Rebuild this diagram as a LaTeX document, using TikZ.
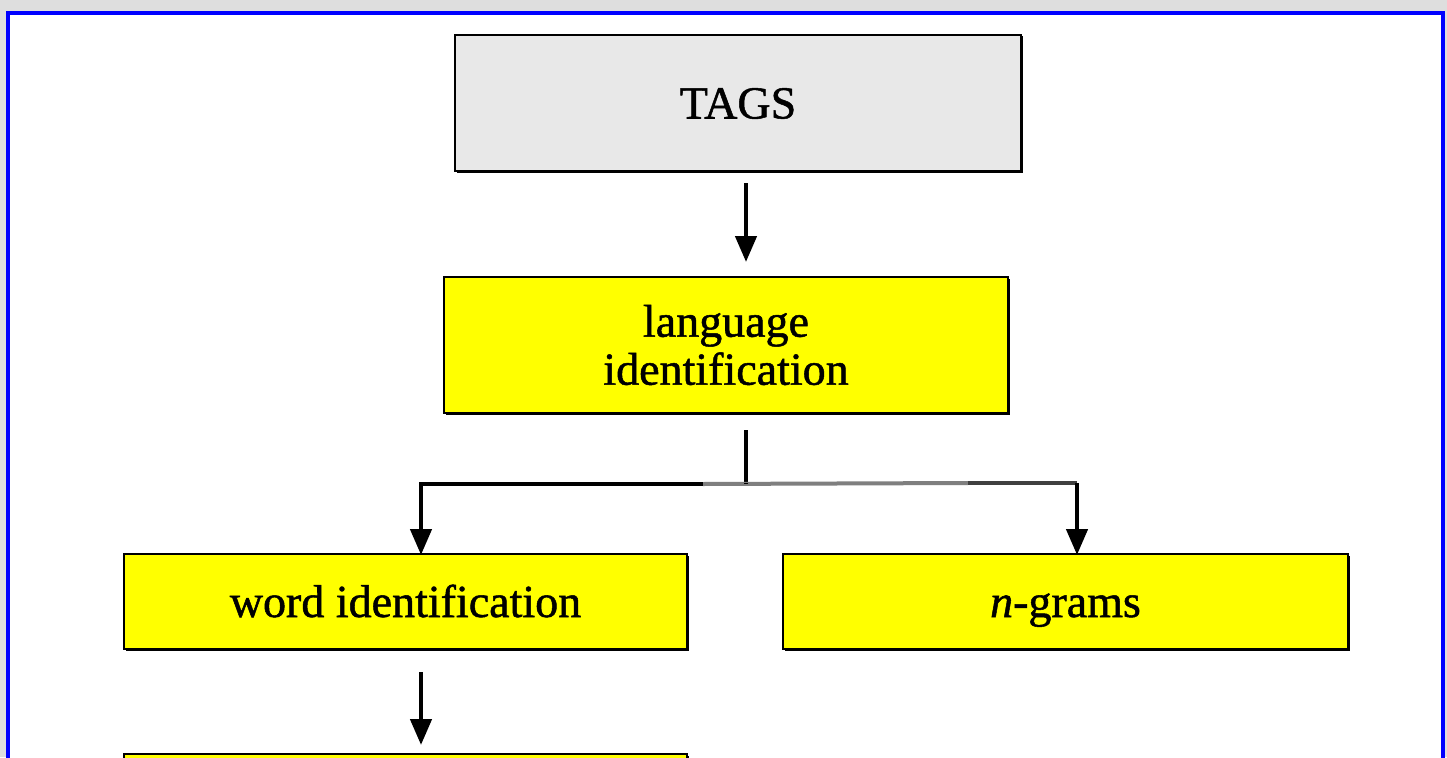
\documentclass[tikz,border=0pt]{standalone}
\usepackage{fontspec}
\setmainfont{Liberation Serif}
\newfontfamily\boxfont{Liberation Serif}[FakeBold=1.1]
\usetikzlibrary{arrows.meta,shadows}
\definecolor{pagegray}{HTML}{DEDEDE}
\definecolor{frameblue}{HTML}{0000FF}
\definecolor{boxgray}{HTML}{E8E8E8}
\definecolor{boxyellow}{HTML}{FFFF00}
\definecolor{midgray}{HTML}{7F7F7F}
\definecolor{darkline}{HTML}{404040}
% fixed height and depth so single-line labels share one baseline
\newcommand\boxstrut{\rule[-11pt]{0pt}{53pt}}
\tikzset{
  stagebox/.style={draw=black, line width=2.8pt, rectangle, inner sep=0pt,
    align=center, font=\boxfont\fontsize{46}{48}\selectfont,
    drop shadow={shadow xshift=1.5pt, shadow yshift=-1.5pt, fill=black, opacity=1}},
  grayfill/.style={stagebox, fill=boxgray},
  yellowfill/.style={stagebox, fill=boxyellow},
  link/.style={line width=4.5pt, draw=black},
  arrowlink/.style={link, -{Triangle[length=26pt,width=21pt]}}
}
\begin{document}
\begin{tikzpicture}[x=1pt,y=-1pt]
\useasboundingbox (0,0) rectangle (1447,757);
\begin{scope}
\clip (0,0) rectangle (1447,757);
% page background and blue frame
\fill[pagegray] (0,0) rectangle (1447,757);
\fill[white] (8,13) rectangle (1443,760);
\draw[frameblue, line width=4pt] (8,770) -- (8,13) -- (1443,13) -- (1443,770);

% boxes
\node[grayfill, minimum width=566pt, minimum height=136pt] (tags) at (738,103) {\boxstrut TAGS};
\node[yellowfill, minimum width=564pt, minimum height=136pt] (lang) at (726,345) {language\\ identification};
\node[yellowfill, minimum width=563pt, minimum height=95pt] (word) at (405.5,601.5) {\boxstrut word identification};
\node[yellowfill, minimum width=565pt, minimum height=95pt] (ngrams) at (1065.5,601.5) {\boxstrut\textit{n}-grams};
\node[yellowfill, minimum width=563pt, minimum height=95pt] (next) at (405.5,801.5) {};

% TAGS -> language identification
\coordinate (t1) at (746,183);
\coordinate (t2) at (746,262);
\draw[arrowlink] (t1) -- (t2);

% language identification -> word identification / n-grams
\coordinate (b0) at (746,430);
\coordinate (bj) at (746,484);
\coordinate (bl) at (421,484);
\coordinate (br) at (1077,483);
\coordinate (g1) at (703,484);
\coordinate (g2) at (968,483);
\coordinate (bl2) at (421,555);
\coordinate (br2) at (1077,555);
\draw[link] (b0) -- (bj);
\draw[link, line cap=rect] (bl) -- (g1);
\draw[line width=4pt, midgray] (g1) -- (g2);
\draw[line width=3.5pt, darkline] (g2) -- (br);
\draw[link] (bj) -- ++(0,-1);
\draw[arrowlink] (bl) -- (bl2);
\draw[arrowlink] (br) -- (br2);

% word identification -> next stage
\coordinate (w1) at (421,672);
\coordinate (w2) at (421,745);
\draw[arrowlink] (w1) -- (w2);
\end{scope}
\end{tikzpicture}
\end{document}
